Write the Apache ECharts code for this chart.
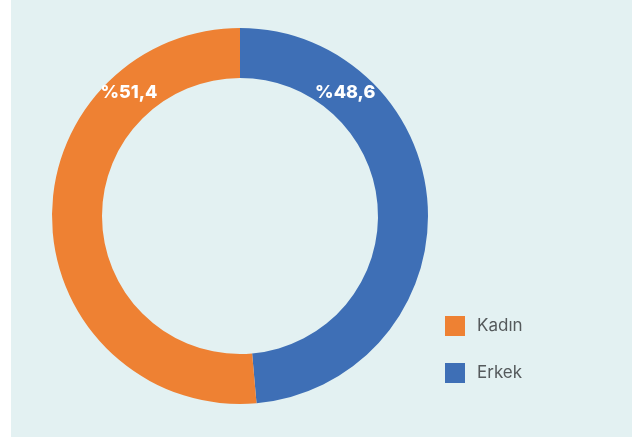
<!DOCTYPE html>
<html>
<head>
<meta charset="utf-8">
<script src="https://cdn.jsdelivr.net/npm/echarts@6/dist/echarts.min.js"></script>
<style>
  html, body { margin: 0; padding: 0; background: #ffffff; }
  #panel { position: absolute; left: 11px; top: 0; width: 621px; height: 437px; }
</style>
</head>
<body>
<div id="panel"></div>
<script>
// Gender split (percent)
const categories = ['Erkek', 'Kadın'];
const shares = [48.6, 51.4];
const legendOrder = ['Kadın', 'Erkek'];

const colors = { 'Erkek': '#3E6FB6', 'Kadın': '#EE8133' };

const CX = 229, CY = 216, R_IN = 138, R_OUT = 188;
// angular position (degrees clockwise from the top) where each value label sits
const labelAngle = { 'Erkek': 40.5, 'Kadın': -42 };
const labelRadius = { 'Erkek': 162, 'Kadın': 166 };

const fmt = v => '%' + v.toFixed(1).replace('.', ',');

const chart = echarts.init(document.getElementById('panel'));
chart.setOption({
  backgroundColor: '#E3F1F2',
  animation: false,
  legend: {
    orient: 'vertical',
    left: 429,
    top: 311,
    data: legendOrder,
    itemWidth: 20,
    itemHeight: 20,
    itemGap: 27,
    icon: 'rect',
    textStyle: { fontFamily: 'Inter', fontSize: 17, color: '#555a5c', padding: [0, 0, 0, 7] }
  },
  series: [{
    type: 'pie',
    center: [CX, CY],
    radius: [R_IN, R_OUT],
    startAngle: 90,
    clockwise: true,
    avoidLabelOverlap: false,
    label: {
      show: true,
      position: 'inside',
      formatter: p => fmt(p.value),
      color: '#ffffff',
      fontFamily: 'Inter',
      fontWeight: 800,
      fontSize: 18
    },
    labelLine: { show: false },
    labelLayout: function (params) {
      const name = categories[params.dataIndex];
      const a = labelAngle[name] * Math.PI / 180;
      const r = labelRadius[name];
      return {
        x: CX + r * Math.sin(a),
        y: CY - r * Math.cos(a),
        align: 'center',
        verticalAlign: 'middle'
      };
    },
    emphasis: { disabled: true },
    data: categories.map((c, i) => ({
      name: c,
      value: shares[i],
      itemStyle: { color: colors[c] }
    }))
  }]
});
</script>
</body>
</html>
